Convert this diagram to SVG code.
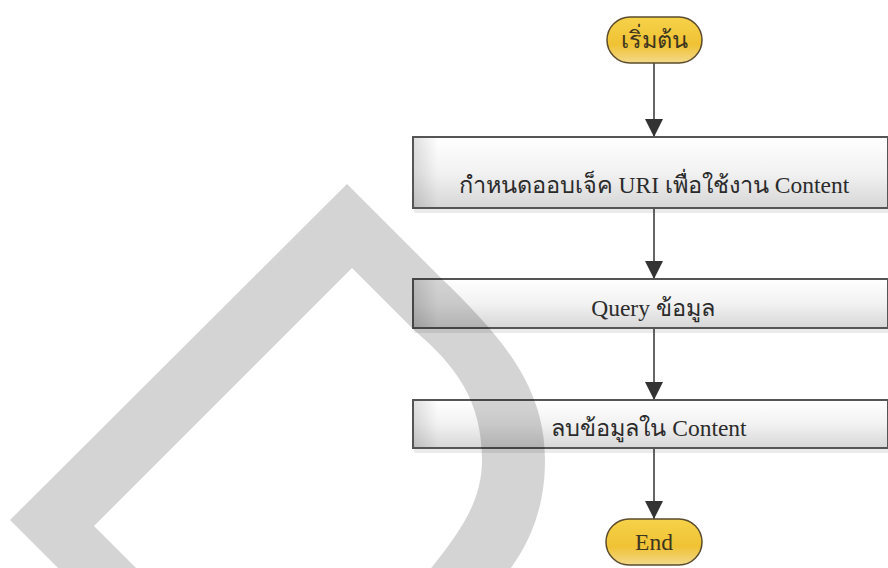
<svg xmlns="http://www.w3.org/2000/svg" width="888" height="568" viewBox="0 0 888 568">
<defs>
<linearGradient id="boxg" x1="0" y1="0" x2="0" y2="1">
<stop offset="0" stop-color="#ffffff"/>
<stop offset="0.5" stop-color="#f2f2f2"/>
<stop offset="1" stop-color="#d6d6d6"/>
</linearGradient>
<linearGradient id="boxl" x1="0" y1="0" x2="1" y2="0">
<stop offset="0" stop-color="#000" stop-opacity="0.12"/>
<stop offset="0.05" stop-color="#000" stop-opacity="0"/>
<stop offset="1" stop-color="#000" stop-opacity="0"/>
</linearGradient>
<linearGradient id="pillg" x1="0" y1="0" x2="0" y2="1">
<stop offset="0" stop-color="#f6d24a"/>
<stop offset="0.6" stop-color="#f0c234"/>
<stop offset="1" stop-color="#f3d98a"/>
</linearGradient>
<marker id="arr" viewBox="0 0 18 18" refX="18" refY="9" markerWidth="18" markerHeight="18" markerUnits="userSpaceOnUse" orient="auto">
<path d="M0,0 L18,9 L0,18 Z" fill="#333"/>
</marker>
<style>
.box{fill:url(#boxg);stroke:#555;stroke-width:2}
.boxl{fill:url(#boxl)}
.shadow{fill:#000;fill-opacity:0.08}
.pill{fill:url(#pillg);stroke:#5a4c2c;stroke-width:1.5}
.t{font-family:"Liberation Serif","Noto Sans CJK SC",serif;font-size:23.5px;fill:#2b2b2b;text-anchor:middle}
.pt{font-family:"Liberation Serif","Noto Sans CJK SC",serif;font-size:23.5px;fill:#3d3520;text-anchor:middle}
.c{stroke:#333;stroke-width:1.5;fill:none;marker-end:url(#arr)}
</style>
</defs>
<rect width="888" height="568" fill="#fff"/>
<g id="connectors">
<line class="c" x1="654" y1="63" x2="654" y2="137"/>
<line class="c" x1="654" y1="208" x2="654" y2="279"/>
<line class="c" x1="654" y1="328" x2="654" y2="400"/>
<line class="c" x1="654" y1="448" x2="654" y2="519"/>
</g>
<g id="start">
<rect class="pill" x="607" y="17" width="95" height="46" rx="23" ry="23"/>
<text class="pt" x="654" y="48">เริ่มต้น</text>
</g>
<g id="step1">
<rect class="shadow" x="414" y="209" width="474" height="4"/>
<rect class="box" x="413" y="137" width="475" height="71"/>
<rect class="boxl" x="414" y="138" width="473" height="69"/>
<text class="t" x="654" y="193">กำหนดออบเจ็ค URI เพื่อใช้งาน Content</text>
</g>
<g id="step2">
<rect class="shadow" x="414" y="329" width="474" height="4"/>
<rect class="box" x="413" y="279" width="475" height="49"/>
<rect class="boxl" x="414" y="280" width="473" height="47"/>
<text class="t" x="653" y="316">Query ข้อมูล</text>
</g>
<g id="step3">
<rect class="shadow" x="414" y="449" width="474" height="4"/>
<rect class="box" x="413" y="400" width="475" height="48"/>
<rect class="boxl" x="414" y="401" width="473" height="46"/>
<text class="t" x="649" y="436">ลบข้อมูลใน Content</text>
</g>
<g id="end">
<rect class="pill" x="606" y="519" width="96" height="46" rx="23" ry="23"/>
<text class="pt" x="654" y="550">End</text>
</g>
<path d="M347,184 L440,277 C500,335 545,385 545,460 C545,505 532,540 508,572 L428,572 C462,530 482,500 482,460 C482,400 455,365 415,331 L352,268 L94,526 L140,572 L62,572 L10,520 Z" fill="#000" fill-opacity="0.17"/>
</svg>
